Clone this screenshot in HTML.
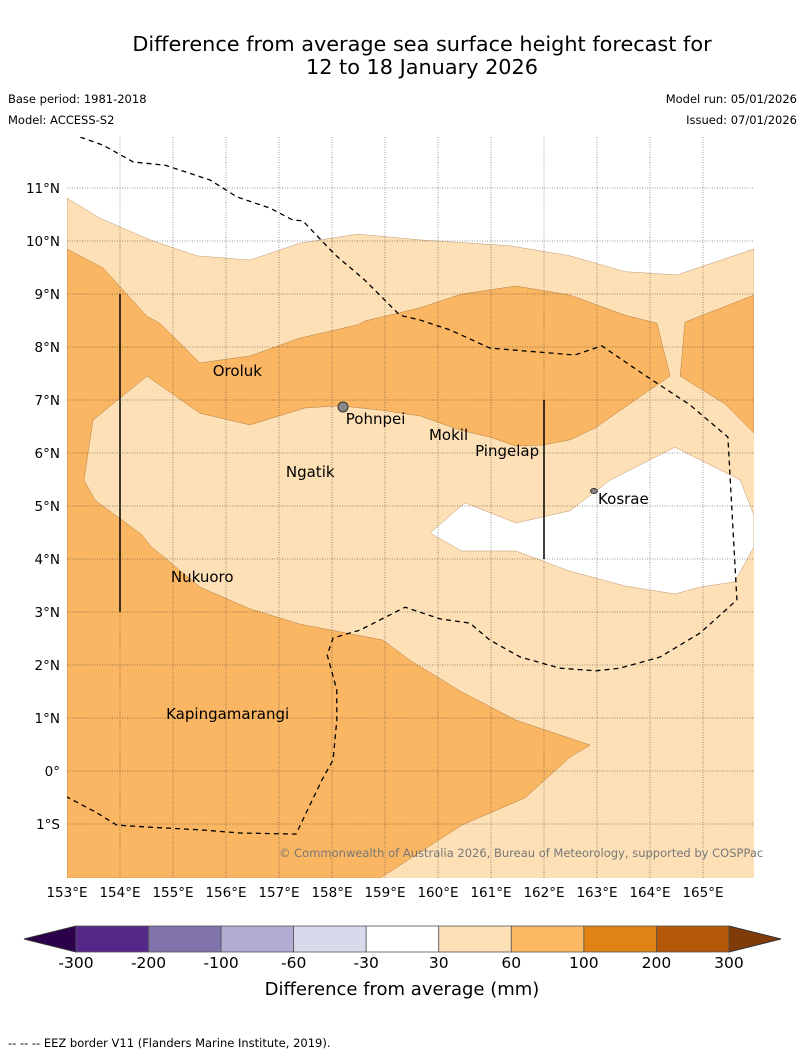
<!DOCTYPE html>
<html><head><meta charset="utf-8">
<style>
body{margin:0;background:#fff;font-family:"DejaVu Sans","Liberation Sans",sans-serif;}
svg text{font-family:"DejaVu Sans","Liberation Sans",sans-serif;}
</style></head>
<body>
<svg id="chart" width="804" height="1058" xmlns="http://www.w3.org/2000/svg">
<text x="422" y="51" font-size="20.8" text-anchor="middle">Difference from average sea surface height forecast for</text>
<text x="422" y="74" font-size="20.8" text-anchor="middle">12 to 18 January 2026</text>
<text x="8" y="103" font-size="11.5">Base period: 1981-2018</text>
<text x="8" y="124" font-size="11.5">Model: ACCESS-S2</text>
<text x="797" y="103" font-size="11.5" text-anchor="end">Model run: 05/01/2026</text>
<text x="797" y="124" font-size="11.5" text-anchor="end">Issued: 07/01/2026</text>
<g id="map"></g>
<g id="cbar"></g>
<text x="402" y="995" font-size="18" text-anchor="middle">Difference from average (mm)</text>
<text x="8" y="1047" font-size="11.5">--  --  -- EEZ border V11 (Flanders Marine Institute, 2019).</text>
</svg>
<script>
const lonTicks=[153,154,155,156,157,158,159,160,161,162,163,164,165];
const latTicks=[-1,0,1,2,3,4,5,6,7,8,9,10,11];
const lightTop=[[153,10.81],[153.62,10.43],[154.57,10.02],[155.45,9.72],[156.45,9.64],[157.4,9.96],[158.49,10.13],[159.66,10.02],[161.36,9.91],[162.49,9.72],[163.53,9.42],[164.51,9.36],[165.96,9.85]];
const whiteHole=[[159.85,4.49],[160.51,5.06],[161.47,4.68],[162.49,4.91],[163.25,5.49],[164.47,6.11],[165.7,5.49],[165.96,4.83],[165.96,4.23],[165.6,3.57],[164.94,3.47],[164.47,3.34],[163.53,3.49],[162.49,3.77],[161.47,4.15],[160.45,4.15]];
const dark1=[[153,9.85],[153.68,9.49],[154.51,8.58],[154.75,8.45],[155.51,7.7],[156.45,7.83],[157.4,8.17],[158.49,8.42],[158.62,8.49],[159.66,8.74],[160.45,9.0],[161.47,9.15],[162.49,8.98],[163.53,8.6],[164.13,8.45],[164.38,7.45],[163.81,7.06],[162.96,6.47],[162.49,6.25],[161.98,6.15],[161.47,6.13],[160.98,6.3],[160.42,6.43],[159.66,6.7],[158.91,6.81],[158.15,6.89],[157.49,6.85],[156.45,6.53],[155.51,6.75],[154.51,7.45],[153.49,6.62],[153.32,5.49],[153.53,5.11],[154.42,4.45],[154.57,4.25],[155.51,3.47],[156.45,3.06],[157.4,2.77],[158.96,2.47],[159.47,2.09],[160.45,1.49],[161.47,0.96],[162.87,0.49],[162.49,0.26],[161.64,-0.51],[160.45,-1.02],[158.91,-2.02],[153,-2.02]];
const dark2=[[164.66,8.47],[165.96,8.98],[165.96,6.38],[165.42,6.92],[164.57,7.45]];
const eez=[[153.25,11.96],[153.68,11.81],[154.25,11.49],[154.85,11.43],[155.7,11.15],[156.21,10.83],[156.83,10.62],[157.25,10.4],[157.45,10.38],[158.06,9.74],[158.62,9.26],[159.28,8.6],[159.66,8.51],[160.23,8.32],[160.98,7.98],[162.58,7.85],[163.09,8.02],[163.81,7.53],[164.75,6.91],[165.47,6.3],[165.64,3.23],[165.32,2.94],[164.94,2.6],[164.19,2.15],[163.43,1.94],[162.98,1.89],[162.3,1.94],[161.55,2.15],[160.98,2.47],[160.6,2.79],[160.04,2.87],[159.38,3.09],[158.53,2.66],[158.02,2.51],[157.91,2.19],[158.09,1.53],[158.09,0.96],[158.02,0.21],[157.81,-0.17],[157.32,-1.19],[156.26,-1.17],[155.51,-1.11],[154.57,-1.06],[153.94,-1.02],[153.53,-0.77],[153,-0.49]];
const vlines=[[154,9,3],[162,7,4]];
const islandNames=["Oroluk","Pohnpei","Mokil","Pingelap","Ngatik","Kosrae","Nukuoro","Kapingamarangi"];
const islandLon=[155.75,158.26,159.83,160.7,157.13,163.02,154.96,154.87];
const islandLat=[7.55,6.64,6.34,6.04,5.64,5.13,3.66,1.08];
const cbLabels=["-300","-200","-100","-60","-30","30","60","100","200","300"];
const cbColors=["#542788","#8073ac","#b2abd2","#d8daeb","#ffffff","#fee0b6","#fdb863","#e08214","#b35806"];

const NS="http://www.w3.org/2000/svg";
const X0=67,X1=754,Y0=137,Y1=878;
const x=lon=>X0+(lon-153)*53;
const y=lat=>771-lat*53;
function mk(tag,attrs,parent){const e=document.createElementNS(NS,tag);for(const k in attrs)e.setAttribute(k,attrs[k]);parent.appendChild(e);return e;}
const map=document.getElementById('map');
const defs=mk('defs',{},map);
const cp=mk('clipPath',{id:'clip'},defs);
mk('rect',{x:X0,y:Y0,width:X1-X0,height:Y1-Y0},cp);
const g=mk('g',{'clip-path':'url(#clip)'},map);
const pts=a=>a.map(p=>x(p[0]).toFixed(1)+','+y(p[1]).toFixed(1)).join(' ');
let light=mk('polygon',{points:pts(lightTop.concat([[166,-2.1],[153,-2.1]])),fill:'#fde0b6',stroke:'#b08050','stroke-width':0.4},g);


let hole=mk('polygon',{points:pts(whiteHole),fill:'#ffffff',stroke:'#b08050','stroke-width':0.4},g);


let d1=mk('polygon',{points:pts(dark1),fill:'#fab662',stroke:'#a06a30','stroke-width':0.4},g);


let d2=mk('polygon',{points:pts(dark2),fill:'#fab662',stroke:'#a06a30','stroke-width':0.4},g);


lonTicks.forEach(l=>{
 if(l>153){let gl=mk('line',{x1:x(l),x2:x(l),y1:Y0,y2:Y1,stroke:'#333','stroke-width':0.5,'stroke-dasharray':'1,1.5'},g);
 
 }
 let t=mk('text',{x:x(l),y:897,'font-size':13.5,'text-anchor':'middle'},map);t.textContent=l+'°E';
 
 
});
latTicks.forEach(l=>{
 let gl=mk('line',{x1:X0,x2:X1,y1:y(l),y2:y(l),stroke:'#333','stroke-width':0.5,'stroke-dasharray':'1,1.5'},g);
 
 
 let t=mk('text',{x:60,y:y(l)+5,'font-size':13.5,'text-anchor':'end'},map);
 t.textContent=l===0?'0°':(l<0?(-l)+'°S':l+'°N');
 
 
});
vlines.forEach(v=>{let l=mk('line',{x1:x(v[0]),x2:x(v[0]),y1:y(v[1]),y2:y(v[2]),stroke:'#000','stroke-width':1.5},g);
 
 });
let e=mk('polyline',{points:pts(eez),fill:'none',stroke:'#000','stroke-width':1.3,'stroke-dasharray':'5,4'},g);


let pb=mk('circle',{cx:343,cy:407,r:5,fill:'#888',stroke:'#333','stroke-width':1},g);


let kb=mk('ellipse',{cx:594,cy:491,rx:3.5,ry:2.5,fill:'#888',stroke:'#333','stroke-width':1},g);


islandNames.forEach((n,i)=>{let t=mk('text',{x:x(islandLon[i]),y:y(islandLat[i])+5,'font-size':15},map);t.textContent=n;
 
 });
let c=mk('text',{x:279,y:857,'font-size':11.5,fill:'#777'},map);c.textContent='© Commonwealth of Australia 2026, Bureau of Meteorology, supported by COSPPac';


const cb=document.getElementById('cbar');
const bx0=76,bw=72.55,by=926,bh=26;
let lt=mk('polygon',{points:`${bx0},${by} ${bx0},${by+bh} 24,${by+bh/2}`,fill:'#2d004b',stroke:'#333'},cb);


let rt=mk('polygon',{points:`${bx0+9*bw},${by} ${bx0+9*bw},${by+bh} 781,${by+bh/2}`,fill:'#7f3b08',stroke:'#333'},cb);


cbColors.forEach((col,i)=>{let r=mk('rect',{x:bx0+i*bw,y:by,width:bw,height:bh,fill:col,stroke:'#555','stroke-width':0.8},cb);
 
 });
cbLabels.forEach((s,i)=>{let t=mk('text',{x:bx0+i*bw,y:968,'font-size':15.5,'text-anchor':'middle'},cb);t.textContent=s;
 
 });
</script>
</body></html>
